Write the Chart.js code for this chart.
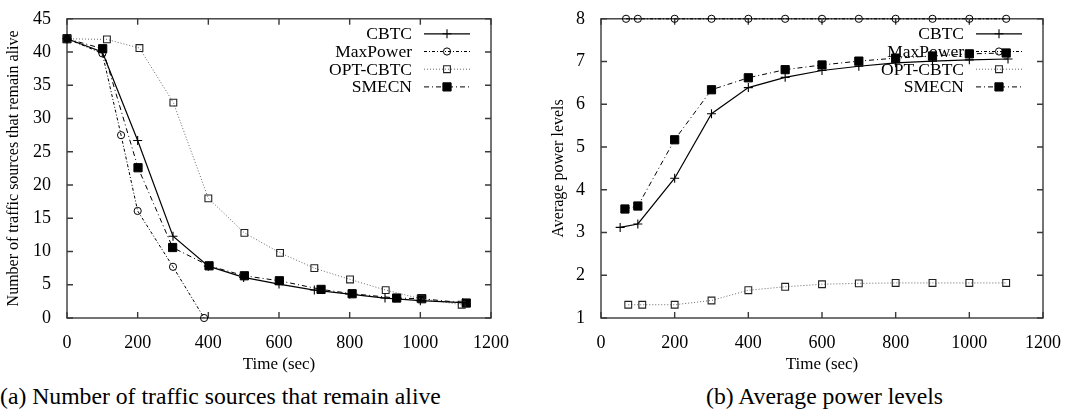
<!DOCTYPE html>
<html>
<head>
<meta charset="utf-8">
<script src="https://cdn.jsdelivr.net/npm/chart.js@4"></script>
<style>
  body { margin: 0; background: #fff; width: 1072px; height: 414px; position: relative; overflow: hidden; }
  canvas { position: absolute; top: 0; }
  .cap { position: absolute; top: 385px; font-family: "Liberation Serif", serif; font-size: 23.7px; line-height: 1; color: #000; white-space: nowrap; }
</style>
</head>
<body>
<canvas id="alive-chart" width="536" height="380" style="left:0"></canvas>
<canvas id="power-chart" width="536" height="380" style="left:536px"></canvas>
<div class="cap" style="left:0">(a) Number of traffic sources that remain alive</div>
<div class="cap" style="left:706px">(b) Average power levels</div>
<script>
// (a) traffic sources alive vs time
const cbtcTimeA = [0, 100, 200, 300, 400, 500, 600, 700, 800, 900, 1000, 1120];
const cbtcAliveA = [42, 40, 26.7, 12.3, 7.8, 6.1, 5.1, 4.2, 3.6, 3.0, 2.6, 2.3];
const maxTimeA = [0, 100, 153, 200, 300, 388];
const maxAliveA = [42, 39.8, 27.5, 16.1, 7.7, 0];
const optTimeA = [0, 113, 205, 301, 400, 502, 603, 700, 801, 902, 1001, 1117];
const optAliveA = [42, 41.9, 40.6, 32.4, 18.0, 12.8, 9.8, 7.5, 5.8, 4.2, 2.9, 2.0];
const smecnTimeA = [0, 101, 201, 299, 402, 502, 601, 719, 807, 933, 1004, 1130];
const smecnAliveA = [42, 40.5, 22.6, 10.6, 7.85, 6.35, 5.6, 4.3, 3.65, 3.0, 2.9, 2.25];

// (b) average power levels vs time
const cbtcTimeB = [52, 100, 200, 300, 400, 500, 600, 700, 800, 900, 1000, 1105];
const cbtcPowerB = [3.12, 3.2, 4.27, 5.78, 6.39, 6.63, 6.79, 6.89, 6.97, 7.01, 7.04, 7.06];
const maxTimeB = [68, 100, 200, 300, 400, 500, 600, 700, 800, 900, 1000, 1100];
const maxPowerB = [8, 8, 8, 8, 8, 8, 8, 8, 8, 8, 8, 8];
const optTimeB = [74, 112, 200, 300, 400, 500, 600, 700, 800, 900, 1000, 1100];
const optPowerB = [1.31, 1.31, 1.31, 1.41, 1.65, 1.73, 1.79, 1.81, 1.82, 1.82, 1.82, 1.82];
const smecnTimeB = [65, 100, 200, 300, 400, 500, 600, 700, 800, 900, 1000, 1100];
const smecnPowerB = [3.55, 3.62, 5.17, 6.34, 6.62, 6.81, 6.92, 7.01, 7.08, 7.13, 7.18, 7.2];

const seriesNames = ["CBTC", "MaxPower", "OPT-CBTC", "SMECN"];
const xTicks = { min: 0, max: 1200, step: 200 };

function pairs(xs, ys) {
    return xs.map((x, i) => ({ x: x, y: ys[i] }));
}

Chart.defaults.font.family = '"Liberation Serif", serif';
Chart.defaults.font.size = 18;
Chart.defaults.color = "#000";

// gnuplot-like box with inward ticks on all sides
const framePlugin = {
    id: "frame",
    beforeDatasetsDraw(chart) {
        const { ctx, chartArea: a, scales } = chart;
        ctx.save();
        ctx.strokeStyle = "#3a3a3a";
        ctx.lineWidth = 1.4;
        ctx.setLineDash([]);
        ctx.strokeRect(a.left, a.top, a.right - a.left, a.bottom - a.top);
        ctx.beginPath();
        scales.x.ticks.forEach(t => {
            const px = scales.x.getPixelForValue(t.value);
            ctx.moveTo(px, a.bottom); ctx.lineTo(px, a.bottom - 6);
            ctx.moveTo(px, a.top); ctx.lineTo(px, a.top + 6);
        });
        scales.y.ticks.forEach(t => {
            const py = scales.y.getPixelForValue(t.value);
            ctx.moveTo(a.left, py); ctx.lineTo(a.left + 6, py);
            ctx.moveTo(a.right, py); ctx.lineTo(a.right - 6, py);
        });
        ctx.stroke();
        ctx.restore();
    }
};

// key drawn inside the plot, top right
const keyPlugin = {
    id: "key",
    beforeDatasetsDraw(chart) {
        const { ctx, chartArea: a } = chart;
        ctx.save();
        chart.data.datasets.forEach((ds, i) => {
            const y = a.top + 15 + i * 17.7;
            const x0 = a.right - 67, x1 = a.right - 21;
            ctx.font = '17.5px "Liberation Serif", serif';
            ctx.fillStyle = "#000";
            ctx.textAlign = "right";
            ctx.textBaseline = "middle";
            ctx.fillText(ds.label, a.right - 79, y + 1);
            ctx.strokeStyle = ds.borderColor;
            ctx.lineWidth = ds.borderWidth;
            ctx.setLineDash(ds.borderDash || []);
            ctx.beginPath();
            ctx.moveTo(x0, y); ctx.lineTo(x1, y);
            ctx.stroke();
            ctx.setLineDash([]);
            ctx.strokeStyle = ds.pointBorderColor;
            ctx.fillStyle = ds.pointBackgroundColor;
            ctx.lineWidth = ds.pointBorderWidth;
            Chart.helpers.drawPoint(ctx, {
                pointStyle: ds.pointStyle, radius: ds.pointRadius,
                rotation: 0, borderWidth: ds.pointBorderWidth
            }, (x0 + x1) / 2, y);
        });
        ctx.restore();
    }
};

function makeDatasets(cbtc, maxp, opt, smecn) {
    return [
        { label: seriesNames[0], data: cbtc, borderColor: "#000", borderWidth: 1.2,
          pointStyle: "cross", pointRadius: 4.5, pointBorderColor: "#000",
          pointBackgroundColor: "#000", pointBorderWidth: 1.1 },
        { label: seriesNames[1], data: maxp, borderColor: "#000", borderWidth: 1,
          borderDash: [3, 2, 1, 2], pointStyle: "circle", pointRadius: 3.6,
          pointBorderColor: "#000", pointBackgroundColor: "rgba(0,0,0,0)", pointBorderWidth: 1 },
        { label: seriesNames[2], data: opt, borderColor: "#666", borderWidth: 1,
          borderDash: [1, 2], pointStyle: "rect", pointRadius: 4.8,
          pointBorderColor: "#222", pointBackgroundColor: "rgba(0,0,0,0)", pointBorderWidth: 1.1 },
        { label: seriesNames[3], data: smecn, borderColor: "#000", borderWidth: 1,
          borderDash: [5, 3, 1, 3], pointStyle: "rect", pointRadius: 5.8,
          pointBorderColor: "#000", pointBackgroundColor: "#000", pointBorderWidth: 1 }
    ].map(ds => Object.assign(ds, { fill: false, tension: 0, clip: false, pointHoverRadius: ds.pointRadius }));
}

function makeOptions(yMin, yMax, yStep, yTitle, yWidth, yTitlePad, rightPad) {
    return {
        responsive: false,
        animation: false,
        events: [],
        layout: { padding: { top: 15, right: rightPad, bottom: 0, left: 0 } },
        plugins: { legend: { display: false }, tooltip: { enabled: false } },
        scales: {
            x: {
                type: "linear", min: xTicks.min, max: xTicks.max,
                ticks: { stepSize: xTicks.step, padding: 6, maxRotation: 0,
                         callback: v => String(v) },
                grid: { display: false }, border: { display: false },
                title: { display: true, text: "Time (sec)", font: { size: 17 }, padding: { top: 0, bottom: 5 } },
                afterFit(scale) { scale.height = 62; }
            },
            y: {
                type: "linear", min: yMin, max: yMax,
                ticks: { stepSize: yStep, padding: 8, callback: v => String(v) },
                grid: { display: false }, border: { display: false },
                title: { display: true, text: yTitle, font: { size: 16 }, padding: { top: yTitlePad, bottom: 0 } },
                afterFit(scale) { scale.width = yWidth; }
            }
        }
    };
}

document.addEventListener("DOMContentLoaded", function() {
    const ctxA = document.getElementById("alive-chart").getContext("2d");
    new Chart(ctxA, {
        type: "line",
        data: { datasets: makeDatasets(pairs(cbtcTimeA, cbtcAliveA), pairs(maxTimeA, maxAliveA),
                                       pairs(optTimeA, optAliveA), pairs(smecnTimeA, smecnAliveA)) },
        options: makeOptions(0, 45, 5, "Number of traffic sources that remain alive", 67, 4, 45),
        plugins: [framePlugin, keyPlugin]
    });

    const ctxB = document.getElementById("power-chart").getContext("2d");
    new Chart(ctxB, {
        type: "line",
        data: { datasets: makeDatasets(pairs(cbtcTimeB, cbtcPowerB), pairs(maxTimeB, maxPowerB),
                                       pairs(optTimeB, optPowerB), pairs(smecnTimeB, smecnPowerB)) },
        options: makeOptions(1, 8, 1, "Average power levels", 65, 13, 29),
        plugins: [framePlugin, keyPlugin]
    });
});
</script>
</body>
</html>
